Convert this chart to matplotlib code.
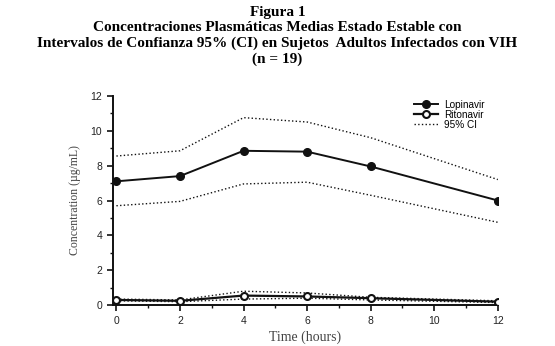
import numpy as np
import matplotlib.pyplot as plt
from matplotlib.ticker import MultipleLocator

time_h = [0, 2, 4, 6, 8, 12]
lopinavir = [7.1, 7.4, 8.85, 8.8, 7.95, 6.0]
lopinavir_hi = [8.55, 8.85, 10.75, 10.5, 9.6, 7.2]
lopinavir_lo = [5.7, 5.95, 6.95, 7.05, 6.3, 4.75]
ritonavir = [0.3, 0.25, 0.55, 0.5, 0.4, 0.2]
ritonavir_hi = [0.35, 0.3, 0.8, 0.7, 0.45, 0.25]
ritonavir_lo = [0.25, 0.2, 0.35, 0.4, 0.3, 0.15]

title = ("Figura 1\n"
         "Concentraciones Plasmáticas Medias Estado Estable con\n"
         "Intervalos de Confianza 95% (CI) en Sujetos  Adultos Infectados con VIH\n"
         "(n = 19)")

fig = plt.figure(figsize=(5.55, 3.46), dpi=100)
fig.text(0.5, 0.984, title, ha='center', va='top', fontsize=11,
         fontweight='bold', family='Liberation Serif', linespacing=1.26)

ax = fig.add_axes([0.204, 0.118, 0.693, 0.605])
ink = '#111111'

ax.plot(time_h, lopinavir, '-o', color=ink, lw=1.4, ms=5.5, label='Lopinavir', zorder=4)
ax.plot(time_h, ritonavir, '-o', color=ink, lw=1.6, ms=5, mfc='white', mew=1.5,
        label='Ritonavir', zorder=4)
ax.plot(time_h, lopinavir_hi, ':', color=ink, lw=1.0, label='95% CI')
ax.plot(time_h, lopinavir_lo, ':', color=ink, lw=1.0)
ax.plot(time_h, ritonavir_hi, ':', color=ink, lw=1.0)
ax.plot(time_h, ritonavir_lo, ':', color=ink, lw=1.0)

ax.set_xlim(-0.1, 12)
ax.set_ylim(0, 12)
ax.xaxis.set_major_locator(MultipleLocator(2))
ax.xaxis.set_minor_locator(MultipleLocator(1))
ax.yaxis.set_major_locator(MultipleLocator(2))
ax.yaxis.set_minor_locator(MultipleLocator(1))
ax.spines['top'].set_visible(False)
ax.spines['right'].set_visible(False)
for s in ['left', 'bottom']:
    ax.spines[s].set_linewidth(1.4)
    ax.spines[s].set_color(ink)
ax.tick_params(which='major', direction='out', length=4, width=1.2, colors=ink,
               labelsize=7.5, pad=4)
ax.tick_params(which='minor', direction='out', length=2.5, width=1.0, colors=ink)
for lab in ax.get_xticklabels() + ax.get_yticklabels():
    lab.set_family('Liberation Sans')
    lab.set_color('#222222')

ax.set_xlabel('Time (hours)', family='Liberation Serif', fontsize=10, color='#444444',
              labelpad=3)
ax.set_ylabel('Concentration (µg/mL)', family='Liberation Serif', fontsize=8.5,
              color='#444444', labelpad=7)

ax.legend(loc='upper right', bbox_to_anchor=(0.99, 1.025), frameon=False,
          handlelength=2.4, labelspacing=0.0, handletextpad=0.6,
          prop={'family': 'Liberation Sans', 'size': 7.2})

fig.savefig('out.png', dpi=100)
